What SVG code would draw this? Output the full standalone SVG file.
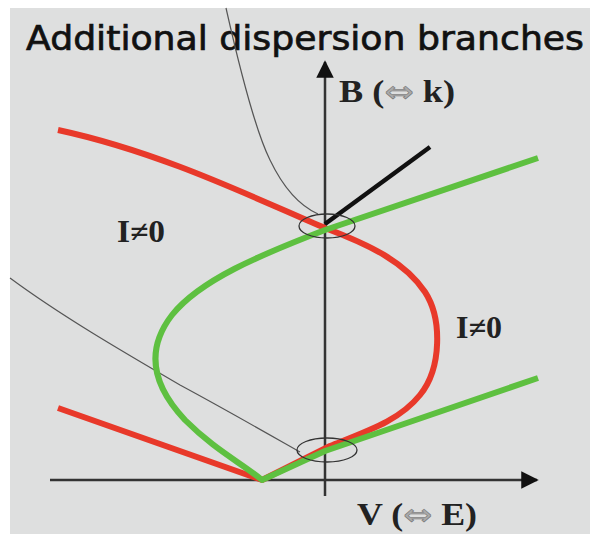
<svg xmlns="http://www.w3.org/2000/svg" width="590" height="534" viewBox="0 0 590 534">
<style>
.title{font-family:"DejaVu Sans",sans-serif;font-size:33px;fill:#111;stroke:#111;stroke-width:0.7}
.lbl{font-family:"Liberation Serif",serif;font-weight:bold;font-size:31px;fill:#222}
.arr{font-family:"DejaVu Sans",sans-serif;font-size:30px;fill:#aaa;stroke:#777;stroke-width:0.6;font-weight:normal}
.axis{stroke:#333;stroke-width:2.5;fill:none}
.thin{stroke:#555;stroke-width:1.2;fill:none}
.red{stroke:#e8392a;stroke-width:6;fill:none;stroke-linejoin:round}
.green{stroke:#5ec040;stroke-width:6;fill:none;stroke-linejoin:round}
.ell{stroke:#333;stroke-width:1.3;fill:none}
</style>
<defs>
<marker id="ah" viewBox="0 0 10 10" refX="9" refY="5" markerWidth="7" markerHeight="7" markerUnits="strokeWidth" orient="auto">
<path d="M0,0 L10,5 L0,10 z" fill="#111"/>
</marker>
</defs>
<rect x="0" y="0" width="590" height="534" fill="#ffffff"/>
<rect x="10" y="8" width="580" height="526" fill="#dedfdf"/>
<text class="title" x="26" y="50" textLength="558" lengthAdjust="spacingAndGlyphs">Additional dispersion branches</text>
<g id="connectors">
<path class="thin" d="M226,8 C240,70 255,130 270,160 C282,185 298,205 318,214"/>
<path class="thin" d="M10,278 C60,315 120,350 180,385 C230,412 270,435 300,452"/>
<line class="axis" x1="325" y1="496" x2="325" y2="62" marker-end="url(#ah)"/>
<line class="axis" x1="50" y1="480" x2="537" y2="480" marker-end="url(#ah)"/>
<path class="red" d="M58,408 L262,480 L330,446 C370,430 400,420 420,395 C442,368 442,318 425,292 C405,262 370,245 325,228 C250,196 160,152 58,130"/>
<path class="green" d="M538,158 L325,230 C260,255 200,280 172,315 C145,350 152,385 185,420 C215,450 240,462 262,480 L325,451 L538,378"/>
<line stroke="#111" stroke-width="4.5" x1="325" y1="224" x2="430" y2="147"/>
</g>
<g id="ellipse-top"><ellipse class="ell" cx="327" cy="226" rx="28" ry="12"/></g>
<g id="ellipse-bottom"><ellipse class="ell" cx="327" cy="450" rx="30" ry="12"/></g>
<g id="label-B"><text class="lbl" x="339" y="102" textLength="116" lengthAdjust="spacingAndGlyphs">B (<tspan class="arr">⇔</tspan> k)</text></g>
<g id="label-V"><text class="lbl" x="357" y="525" textLength="120" lengthAdjust="spacingAndGlyphs">V (<tspan class="arr">⇔</tspan> E)</text></g>
<g id="label-I1"><text class="lbl" x="117" y="242" textLength="48" lengthAdjust="spacingAndGlyphs">I≠0</text></g>
<g id="label-I2"><text class="lbl" x="456" y="338" textLength="46" lengthAdjust="spacingAndGlyphs">I≠0</text></g>
</svg>
